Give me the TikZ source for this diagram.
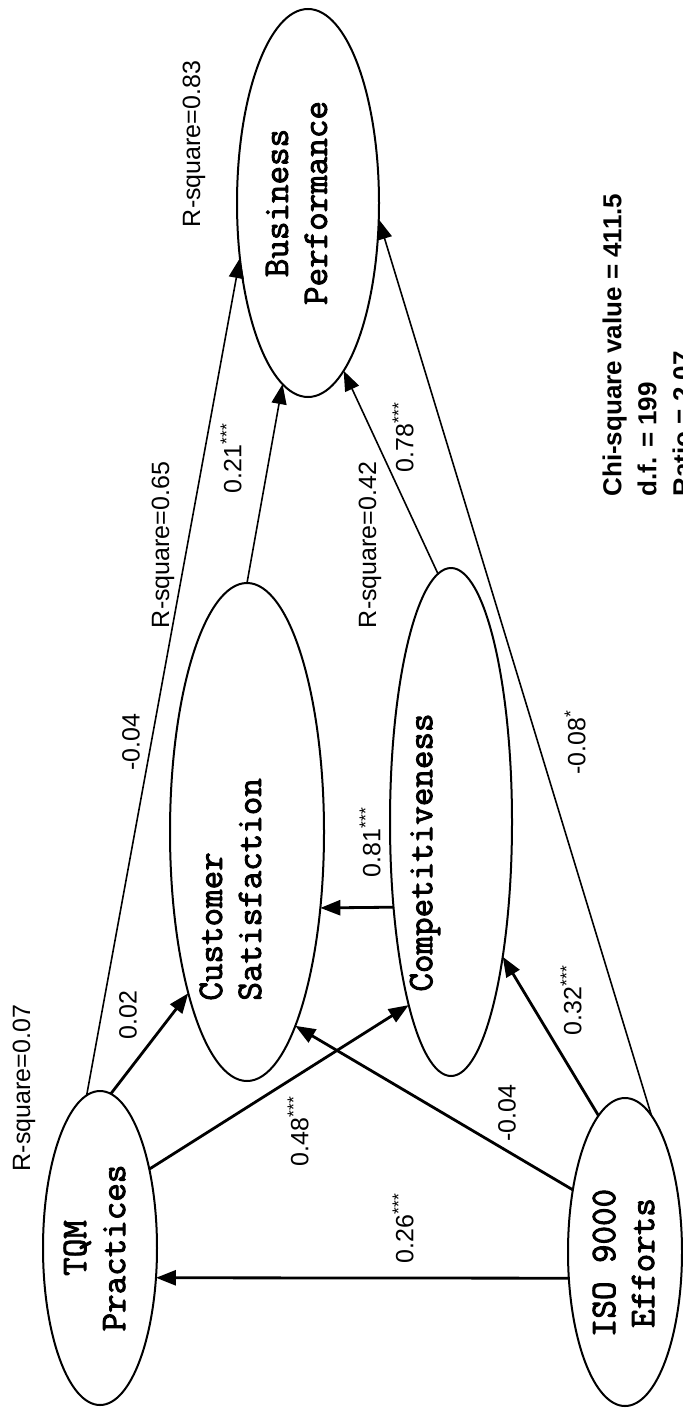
\documentclass[tikz,border=0pt]{standalone}
\usepackage{fontspec}
\setmainfont{Liberation Sans}
\newfontfamily\courb{Latin Modern Mono}[FakeBold=2.5]
\usetikzlibrary{shapes.geometric,arrows.meta}
\begin{document}
\begin{tikzpicture}[x=0.5pt,y=-0.5pt,
  latent/.style={draw, ellipse, line width=1pt, inner sep=0pt, outer sep=0pt},
  ename/.style={rotate=90, font=\courb\fontsize{18}{19.5}\selectfont, inner sep=0pt},
  coef/.style={rotate=90, font=\fontsize{12.5}{15}\selectfont, inner sep=0pt},
  thickarr/.style={line width=1.4pt, -{Triangle[length=10pt,width=7.5pt]}},
  thinarr/.style={line width=0.8pt, -{Triangle[length=10pt,width=7.5pt]}},
  stats/.style={rotate=90, anchor=west, align=left, inner sep=0pt, font=\bfseries\fontsize{13}{17.5}\selectfont}
]
\useasboundingbox (0,0) rectangle (683,1413);
\fill[white] (0,0) rectangle (683,1413);
\clip (0,0) rectangle (683,1413);

% latent variables
\node[latent, minimum width=57pt, minimum height=157pt] (tqm) at (100,1248) {};
\node[latent, minimum width=57pt, minimum height=154pt] (iso) at (625,1252) {};
\node[latent, minimum width=77pt, minimum height=249pt] (cs) at (247,832) {};
\node[latent, minimum width=61pt, minimum height=254pt] (comp) at (451,822) {};
\node[latent, minimum width=71pt, minimum height=194pt] (bp) at (308,203) {};

% names
\node[ename, align=center] (ttqm) at (94.5,1248) {TQM\\Practices};
\node[ename, align=center] (tiso) at (623.5,1263) {ISO 9000\\Efforts};
\node[ename, align=left, anchor=west] (tcs) at (230.5,1001) {Customer\\Satisfaction};
\node[ename] (tcomp) at (425,852.5) {Competitiveness};
\node[ename, align=center] (tbp) at (296.5,203) {Business\\Performance};

% paths
\draw[thickarr] (iso.205) -- (tqm.-28);
\draw[thickarr] (tqm.58) -- (comp.257);
\draw[thickarr] (tqm.86) -- (cs.250);
\draw[thinarr] (tqm.95) -- (bp.219);
\draw[thickarr] (iso.130) -- (cs.-76);
\draw[thickarr] (iso.101) -- (comp.-69);
\draw[thinarr] (iso.79) -- (bp.-13.5);
\draw[thickarr] (comp.236.6) -- (cs.-46.4);
\draw[thinarr] (cs.90.7) -- (bp.262.4);
\draw[thinarr] (comp.93.4) -- (bp.-78.4);

% coefficients
\node[coef] (r07) at (24,1088) {R-square=0.07};
\node[coef] (l002) at (128,1015) {0.02};
\node[coef] (l048) at (298,1131) {0.48\textsuperscript{***}};
\node[coef] (l026) at (403,1228) {0.26\textsuperscript{***}};
\node[coef] (l004b) at (507,1113) {-0.04};
\node[coef] (l032) at (571,1000) {0.32\textsuperscript{***}};
\node[coef] (l081) at (370,842) {0.81\textsuperscript{***}};
\node[coef] (l004a) at (131,742) {-0.04};
\node[coef] (l008) at (575,742) {-0.08\textsuperscript{*}};
\node[coef] (r065) at (163,545) {R-square=0.65};
\node[coef] (l021) at (231,458) {0.21\textsuperscript{***}};
\node[coef] (r042) at (370,545) {R-square=0.42};
\node[coef] (l078) at (403,437) {0.78\textsuperscript{***}};
\node[coef] (r083) at (194,144) {R-square=0.83};

% fit statistics
\node[stats] (chi) at (647,497) {Chi-square value = 411.5\\d.f. = 199\\Ratio = 2.07};
\end{tikzpicture}
\end{document}
